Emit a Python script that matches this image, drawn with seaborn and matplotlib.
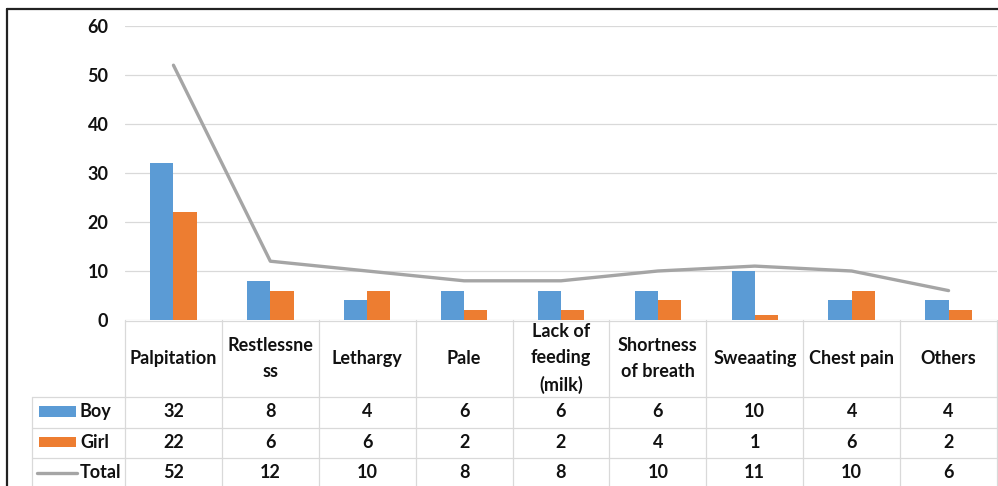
import numpy as np
import pandas as pd
import matplotlib
matplotlib.use("Agg")
import matplotlib.pyplot as plt
from matplotlib.lines import Line2D
from matplotlib.patches import Rectangle
import seaborn as sns

# ---- data ----
categories = ["Palpitation", "Restlessness", "Lethargy", "Pale", "Lack of feeding (milk)",
              "Shortness of breath", "Sweaating", "Chest pain", "Others"]
header_labels = ["Palpitation", "Restlessne\nss", "Lethargy", "Pale", "Lack of\nfeeding\n(milk)",
                 "Shortness\nof breath", "Sweaating", "Chest pain", "Others"]
boy = [32, 8, 4, 6, 6, 6, 10, 4, 4]
girl = [22, 6, 6, 2, 2, 4, 1, 6, 2]
total = [52, 12, 10, 8, 8, 10, 11, 10, 6]
yticks = [0, 10, 20, 30, 40, 50, 60]

BLUE, ORANGE, GRAY = "#5B9BD5", "#ED7D31", "#A5A5A5"
GRID = "#D9D9D9"
TXT = "#111111"

df = pd.DataFrame({
    "category": categories * 2,
    "sex": ["Boy"] * len(categories) + ["Girl"] * len(categories),
    "value": boy + girl,
})

sns.set_theme(style="white")
plt.rcParams["font.family"] = ["Lato", "DejaVu Sans"]
plt.rcParams["font.weight"] = "bold"

W, H = 998, 486
fig = plt.figure(figsize=(W / 100, H / 100), dpi=100)

x0, x1 = 125, 997          # plot area horizontal pixels
y_top, y_zero = 26, 320    # pixel rows of 60 and 0
ax = fig.add_axes([x0 / W, (H - y_zero) / H, (x1 - x0) / W, (y_zero - y_top) / H])

sns.barplot(data=df, x="category", y="value", hue="sex", order=categories,
            palette={"Boy": BLUE, "Girl": ORANGE}, width=0.48, saturation=1,
            linewidth=0, legend=False, ax=ax)
sns.lineplot(x=np.arange(len(categories)), y=total, color=GRAY, linewidth=2.4, ax=ax)

ax.set_xlim(-0.5, len(categories) - 0.5)
ax.set_ylim(0, 60)
ax.set_yticks(yticks)
ax.set_yticklabels([str(t) for t in yticks], fontsize=13, fontweight="bold", color=TXT)
ax.set_xticks([])
ax.set_xlabel("")
ax.set_ylabel("")
ax.yaxis.grid(True, color=GRID, linewidth=0.9)
ax.set_axisbelow(True)
ax.tick_params(axis="y", length=0, pad=12)
for s in ax.spines.values():
    s.set_visible(False)

# ---- data table ----
tab_h = H - y_zero
tax = fig.add_axes([x0 / W, 0, (x1 - x0) / W, tab_h / H], sharex=ax)
tax.set_ylim(tab_h, 0)
tax.axis("off")
colw = (x1 - x0) / len(categories)

def px_x(px):
    return -0.5 + (px - x0) / colw

legend_left = px_x(32)
row_tops = [77, 107.5, 137.5, 167.5]
row_labels = ["Boy", "Girl", "Total"]
row_vals = [boy, girl, total]
lc = GRID
lw = 0.9

tax.add_line(Line2D([-0.5, len(categories) - 0.5], [0.5, 0.5], color=lc, lw=lw, clip_on=False))
for yy in row_tops[:3]:
    tax.add_line(Line2D([legend_left, len(categories) - 0.5], [yy, yy], color=lc, lw=lw, clip_on=False))
for k in range(len(categories) + 1):
    tax.add_line(Line2D([-0.5 + k, -0.5 + k], [0, tab_h + 5], color=lc, lw=lw, clip_on=False))
tax.add_line(Line2D([legend_left, legend_left], [77, tab_h + 5], color=lc, lw=lw, clip_on=False))

fs = 13
for i, lab in enumerate(header_labels):
    tax.text(i, 38.5, lab, ha="center", va="center", fontsize=fs, fontweight="bold",
             color=TXT, linespacing=1.65)

for r, (lab, vals) in enumerate(zip(row_labels, row_vals)):
    yc = (row_tops[r] + row_tops[r + 1]) / 2 - 0.5
    for i, v in enumerate(vals):
        tax.text(i, yc, str(v), ha="center", va="center", fontsize=fs, fontweight="bold", color=TXT)
    tax.text(px_x(80), yc, lab, ha="left", va="center", fontsize=fs, fontweight="bold",
             color=TXT, clip_on=False)

# legend keys
for r, col in enumerate([BLUE, ORANGE]):
    yc = (row_tops[r] + row_tops[r + 1]) / 2 - 0.5
    tax.add_patch(Rectangle((px_x(39), yc - 5.3), px_x(76) - px_x(39), 10.6,
                            facecolor=col, edgecolor="none", clip_on=False))
yc = (row_tops[2] + row_tops[3]) / 2 - 0.5
tax.add_line(Line2D([px_x(37), px_x(77)], [yc + 1, yc + 1], color=GRAY, lw=2.4, clip_on=False))

# chart border (top and left)
fig.add_artist(Line2D([6.7 / W, 6.7 / W], [0, (H - 9) / H], color="#222222", lw=1.6))
fig.add_artist(Line2D([6.7 / W, 1], [(H - 9) / H, (H - 9) / H], color="#222222", lw=1.6))

fig.savefig("out.png", dpi=100)
